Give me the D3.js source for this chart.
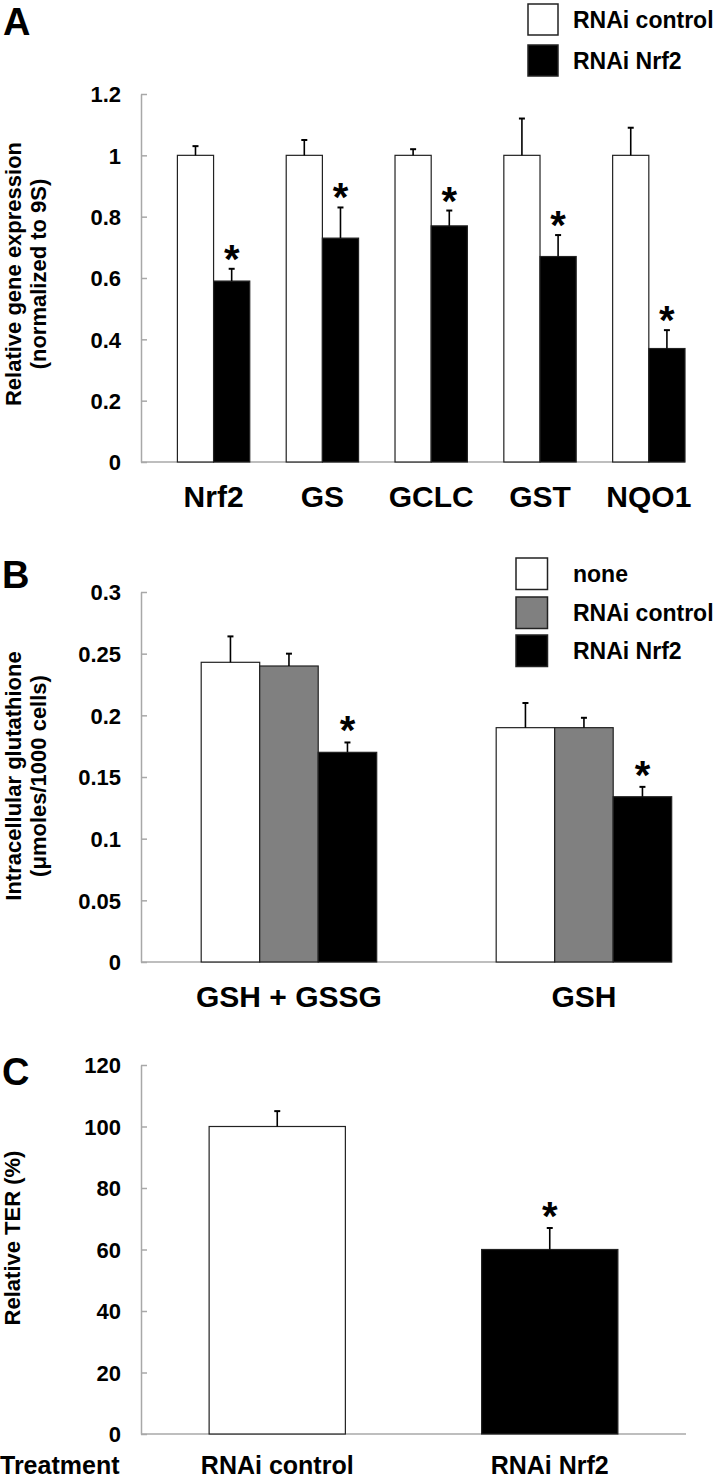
<!DOCTYPE html>
<html>
<head>
<meta charset="utf-8">
<script src="https://cdn.jsdelivr.net/npm/d3@7"></script>
<style>
  html, body { margin: 0; padding: 0; background: #fff; }
  svg { display: block; }
  text { font-family: "Liberation Sans", Arial, Helvetica, sans-serif; font-weight: bold; fill: #000; }
</style>
</head>
<body>
<svg id="chart" width="717" height="1480"></svg>
<script>
// ---------- Panel A data ----------
const genes = ["Nrf2", "GS", "GCLC", "GST", "NQO1"];
const seriesA = ["RNAi control", "RNAi Nrf2"];
const ctrlA = [1, 1, 1, 1, 1];
const ctrlAErr = [0.03, 0.05, 0.02, 0.12, 0.09];
const nrf2A = [0.59, 0.73, 0.77, 0.67, 0.37];
const nrf2AErr = [0.04, 0.10, 0.05, 0.07, 0.06];
const sigA = [true, true, true, true, true];
const yTicksA = [0, 0.2, 0.4, 0.6, 0.8, 1, 1.2];

// ---------- Panel B data ----------
const measures = ["GSH + GSSG", "GSH"];
const seriesB = ["none", "RNAi control", "RNAi Nrf2"];
const noneB = [0.243, 0.190];
const noneBErr = [0.021, 0.020];
const ctrlB = [0.240, 0.190];
const ctrlBErr = [0.010, 0.008];
const nrf2B = [0.170, 0.134];
const nrf2BErr = [0.008, 0.008];
const sigB = [true, true];
const yTicksB = [0, 0.05, 0.1, 0.15, 0.2, 0.25, 0.3];

// ---------- Panel C data ----------
const treatments = ["RNAi control", "RNAi Nrf2"];
const ter = [100, 60];
const terErr = [5, 7];
const sigC = [false, true];
const yTicksC = [0, 20, 40, 60, 80, 100, 120];

const fills = { white: "#ffffff", gray: "#808080", black: "#000000" };
const svg = d3.select("#chart");
const axisColor = "#a8a8a8";
const fmt = d => String(+d.toFixed(3));

function yAxis(g, y, ticks, x0) {
  const ax = d3.axisLeft(y).tickValues(ticks).tickFormat(fmt)
    .tickSizeInner(-6).tickSizeOuter(0).tickPadding(20);
  const a = g.append("g").attr("transform", `translate(${x0},0)`).call(ax);
  a.select(".domain").attr("stroke", axisColor).attr("stroke-width", 1.5);
  a.selectAll(".tick line").attr("stroke", axisColor).attr("stroke-width", 1.5);
  a.selectAll(".tick text").attr("font-size", 22).attr("font-family", null)
    .attr("dy", "0.36em").style("font-weight", "bold");
}

function xLine(g, y, x0, x1) {
  g.append("line").attr("x1", x0).attr("x2", x1)
    .attr("y1", y(0)).attr("y2", y(0))
    .attr("stroke", axisColor).attr("stroke-width", 1.5);
}

function bars(g, items, y, starOffset) {
  g.selectAll(null).data(items).enter().append("rect")
    .attr("x", d => d.x).attr("width", d => d.w)
    .attr("y", d => y(d.v)).attr("height", d => y(0) - y(d.v))
    .attr("fill", d => d.fill).attr("stroke", "#222").attr("stroke-width", 1.2);
  const eb = g.selectAll(null).data(items).enter().append("g");
  eb.append("line")
    .attr("x1", d => d.x + d.w / 2).attr("x2", d => d.x + d.w / 2)
    .attr("y1", d => y(d.v)).attr("y2", d => y(d.v + d.e))
    .attr("stroke", "#000").attr("stroke-width", 1.6);
  eb.append("line")
    .attr("x1", d => d.x + d.w / 2 - 3).attr("x2", d => d.x + d.w / 2 + 3)
    .attr("y1", d => y(d.v + d.e)).attr("y2", d => y(d.v + d.e))
    .attr("stroke", "#000").attr("stroke-width", 2);
  g.selectAll(null).data(items.filter(d => d.sig)).enter().append("text")
    .attr("x", d => d.x + d.w / 2).attr("y", d => y(d.v + d.e) + starOffset)
    .attr("text-anchor", "middle").attr("font-size", 40).text("*");
}

function yTitle(g, lines, cx, cy, size) {
  lines.forEach((t, i) => {
    g.append("text")
      .attr("transform", `translate(${cx[i]},${cy}) rotate(-90)`)
      .attr("text-anchor", "middle").attr("dy", "0.35em")
      .attr("font-size", size).text(t);
  });
}

function legend(g, names, colors, x, ys, w, h, tx) {
  names.forEach((n, i) => {
    g.append("rect").attr("x", x).attr("y", ys[i]).attr("width", w).attr("height", h)
      .attr("fill", colors[i]).attr("stroke", "#222").attr("stroke-width", 1.5);
    g.append("text").attr("x", tx).attr("y", ys[i] + h / 2).attr("dy", "0.36em")
      .attr("font-size", 23).text(n);
  });
}

// ================= Panel A =================
{
  const g = svg.append("g");
  const y = d3.scaleLinear().domain([0, 1.2]).range([462, 94]);
  const x = d3.scaleBand().domain(genes).range([177.4, 685]).paddingInner(0.335).paddingOuter(0);
  const xs = d3.scaleBand().domain(seriesA).range([0, x.bandwidth()]);
  xLine(g, y, 141, 685);
  const items = [];
  genes.forEach((k, i) => {
    items.push({ x: x(k) + xs(seriesA[0]), w: xs.bandwidth(), v: ctrlA[i], e: ctrlAErr[i], fill: fills.white, sig: false });
    items.push({ x: x(k) + xs(seriesA[1]), w: xs.bandwidth(), v: nrf2A[i], e: nrf2AErr[i], fill: fills.black, sig: sigA[i] });
  });
  bars(g, items, y, 4);
  yAxis(g, y, yTicksA, 141);
  g.selectAll(null).data(genes).enter().append("text")
    .attr("x", d => x(d) + x.bandwidth() / 2).attr("y", 507)
    .attr("text-anchor", "middle").attr("font-size", 30).text(d => d);
  yTitle(g, ["Relative gene expression", "(normalized to 9S)"], [13, 38], 274, 22);
  g.append("text").attr("x", 3).attr("y", 35).attr("font-size", 38).text("A");
  legend(g, seriesA, [fills.white, fills.black], 528, [4, 45], 30, 31, 573);
}

// ================= Panel B =================
{
  const g = svg.append("g");
  const y = d3.scaleLinear().domain([0, 0.3]).range([962, 592]);
  const x = d3.scaleBand().domain(measures).range([201.2, 671.7]).paddingInner(0.405).paddingOuter(0);
  const xs = d3.scaleBand().domain(seriesB).range([0, x.bandwidth()]);
  xLine(g, y, 141, 672);
  const vals = [noneB, ctrlB, nrf2B], errs = [noneBErr, ctrlBErr, nrf2BErr];
  const cols = [fills.white, fills.gray, fills.black];
  const items = [];
  measures.forEach((m, i) => {
    seriesB.forEach((s, j) => {
      items.push({ x: x(m) + xs(s), w: xs.bandwidth(), v: vals[j][i], e: errs[j][i], fill: cols[j], sig: j === 2 && sigB[i] });
    });
  });
  bars(g, items, y, 2);
  yAxis(g, y, yTicksB, 141);
  g.selectAll(null).data(measures).enter().append("text")
    .attr("x", d => x(d) + x.bandwidth() / 2).attr("y", 1007)
    .attr("text-anchor", "middle").attr("font-size", 30).text(d => d);
  yTitle(g, ["Intracellular glutathione", "(μmoles/1000 cells)"], [13, 38], 776, 22);
  g.append("text").attr("x", 2).attr("y", 588).attr("font-size", 38).text("B");
  legend(g, seriesB, cols, 516, [558, 597, 635], 31.5, 31.5, 573);
}

// ================= Panel C =================
{
  const g = svg.append("g");
  const y = d3.scaleLinear().domain([0, 120]).range([1434, 1065]);
  const x = d3.scaleBand().domain(treatments).range([141, 686]).paddingInner(0.5).paddingOuter(0.25);
  xLine(g, y, 141, 686);
  const cols = [fills.white, fills.black];
  const items = treatments.map((t, i) => ({ x: x(t), w: x.bandwidth(), v: ter[i], e: terErr[i], fill: cols[i], sig: sigC[i] }));
  bars(g, items, y, 2);
  yAxis(g, y, yTicksC, 141);
  g.selectAll(null).data(treatments).enter().append("text")
    .attr("x", d => x(d) + x.bandwidth() / 2).attr("y", 1474)
    .attr("text-anchor", "middle").attr("font-size", 25).text(d => d);
  g.append("text").attr("x", 0).attr("y", 1474).attr("font-size", 25).text("Treatment");
  yTitle(g, ["Relative TER (%)"], [12], 1238, 22);
  g.append("text").attr("x", 2).attr("y", 1085).attr("font-size", 38).text("C");
}
</script>
</body>
</html>
